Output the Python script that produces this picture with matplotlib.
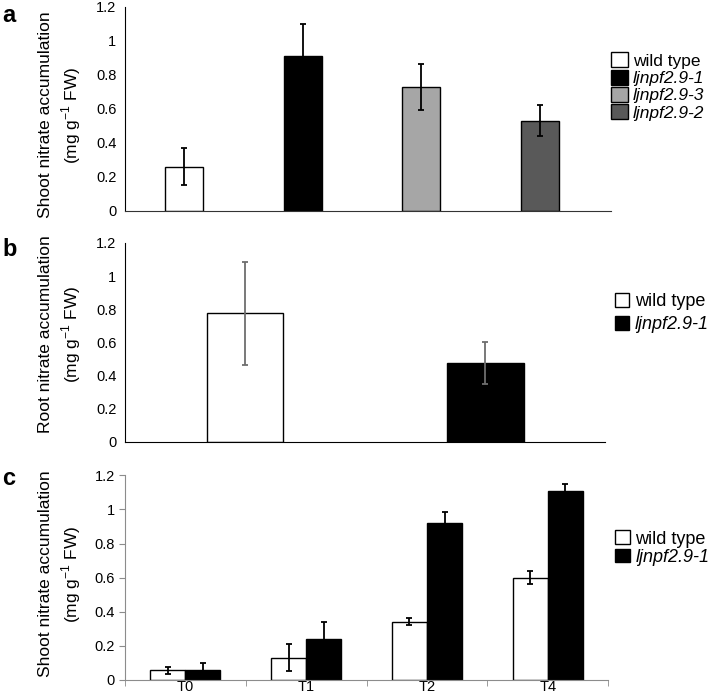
import numpy as np
import matplotlib.pyplot as plt
from matplotlib.patches import Patch

plt.rcParams['font.family'] = ['Liberation Sans', 'DejaVu Sans']
plt.rcParams['mathtext.fontset'] = 'custom'
plt.rcParams['mathtext.rm'] = 'Liberation Sans'

# ---- data ----
a_labels = ['wild type', 'ljnpf2.9-1', 'ljnpf2.9-3', 'ljnpf2.9-2']
a_values = [0.26, 0.91, 0.73, 0.53]
a_errors = [0.11, 0.19, 0.135, 0.09]
a_colors = ['white', 'black', '#a6a6a6', '#595959']

b_labels = ['wild type', 'ljnpf2.9-1']
b_values = [0.775, 0.475]
b_errors = [0.31, 0.125]

c_times = ['T0', 'T1', 'T2', 'T4']
c_wt = [0.055, 0.13, 0.34, 0.60]
c_wt_err = [0.02, 0.08, 0.02, 0.04]
c_mut = [0.055, 0.24, 0.92, 1.11]
c_mut_err = [0.045, 0.10, 0.065, 0.04]

yticks = [0, 0.2, 0.4, 0.6, 0.8, 1.0, 1.2]
ytick_labels = ['0', '0.2', '0.4', '0.6', '0.8', '1', '1.2']

fig = plt.figure(figsize=(7.09, 6.98), dpi=100)

def style_axis(ax, spine_color='black'):
    for s in ['top', 'right']:
        ax.spines[s].set_visible(False)
    ax.spines['left'].set_color(spine_color)
    ax.spines['bottom'].set_color(spine_color)
    ax.set_ylim(0, 1.2)
    ax.set_yticks(yticks)
    ax.set_yticklabels(ytick_labels, fontsize=10.5)

def legend_for(labels, colors, loc_xy, spacing, size, hsize=0.8):
    handles = [Patch(facecolor=c, edgecolor='black', linewidth=1) for c in colors]
    leg = fig.legend(handles, labels, loc='upper left', bbox_to_anchor=loc_xy,
                     frameon=False, fontsize=size, handlelength=hsize, handleheight=hsize,
                     handletextpad=0.3, labelspacing=spacing, borderpad=0, borderaxespad=0)
    for i, t in enumerate(leg.get_texts()):
        if i > 0:
            t.set_style('italic')
    return leg

def ylabel(text, yc):
    fig.text(0.085, yc, text, rotation=90, ha='center', va='center',
             multialignment='center', fontsize=12.5, linespacing=1.35)

ylab_shoot = 'Shoot nitrate accumulation\n(mg g$^{-1}$ FW)'
ylab_root = 'Root nitrate accumulation\n(mg g$^{-1}$ FW)'

# ---- panel a ----
ax1 = fig.add_axes([0.176, 0.698, 0.686, 0.292])
xa = np.arange(len(a_values))
ax1.bar(xa, a_values, width=0.32, color=a_colors, edgecolor='black', linewidth=1,
        yerr=a_errors, capsize=2.5, error_kw=dict(elinewidth=1.3, capthick=1.3, ecolor='black'))
style_axis(ax1)
ax1.spines['bottom'].set_color('#333333')
ax1.set_xlim(-0.5, 3.6)
ax1.set_xticks([])
ax1.tick_params(axis='y', length=0, pad=6)
ylabel(ylab_shoot, 0.835)
legend_for(a_labels, a_colors, (0.862, 0.925), 0.05, 12.5, hsize=0.95)
fig.text(0.003, 0.978, 'a', fontsize=17, fontweight='bold', va='center')

# ---- panel b ----
ax2 = fig.add_axes([0.176, 0.367, 0.678, 0.285])
xb = np.arange(len(b_values))
ax2.bar(xb, b_values, width=0.32, color=['white', 'black'], edgecolor='black', linewidth=1,
        yerr=b_errors, capsize=2.5, error_kw=dict(elinewidth=1.3, capthick=1.3, ecolor='#6e6e6e'))
style_axis(ax2)
ax2.set_xlim(-0.5, 1.5)
ax2.set_xticks([])
ax2.tick_params(axis='y', length=0, pad=6)
ylabel(ylab_root, 0.521)
legend_for(b_labels, ['white', 'black'], (0.867, 0.58), 0.3, 13)
fig.text(0.003, 0.643, 'b', fontsize=17, fontweight='bold', va='center')

# ---- panel c ----
ax3 = fig.add_axes([0.176, 0.026, 0.682, 0.293])
xc = np.arange(len(c_times))
w = 0.29
ax3.bar(xc - w / 2, c_wt, width=w, color='white', edgecolor='black', linewidth=1,
        yerr=c_wt_err, capsize=2.5, error_kw=dict(elinewidth=1.3, capthick=1.3, ecolor='black'))
ax3.bar(xc + w / 2, c_mut, width=w, color='black', edgecolor='black', linewidth=1,
        yerr=c_mut_err, capsize=2.5, error_kw=dict(elinewidth=1.3, capthick=1.3, ecolor='black'))
style_axis(ax3, spine_color='#8c8c8c')
ax3.set_xlim(-0.5, 3.5)
ax3.set_xticks(xc)
ax3.set_xticklabels(c_times, fontsize=10.5)
ax3.set_xticks(np.arange(-0.5, 4.0, 1.0), minor=True)
ax3.tick_params(axis='x', which='major', length=0, pad=0)
ax3.tick_params(axis='x', which='minor', length=4, color='#8c8c8c')
ax3.tick_params(axis='y', length=4, color='#8c8c8c', pad=3)
ylabel(ylab_shoot, 0.178)
legend_for(b_labels, ['white', 'black'], (0.868, 0.24), 0.05, 13)
fig.text(0.003, 0.315, 'c', fontsize=17, fontweight='bold', va='center')

fig.savefig('out.png', dpi=100, facecolor='white')
